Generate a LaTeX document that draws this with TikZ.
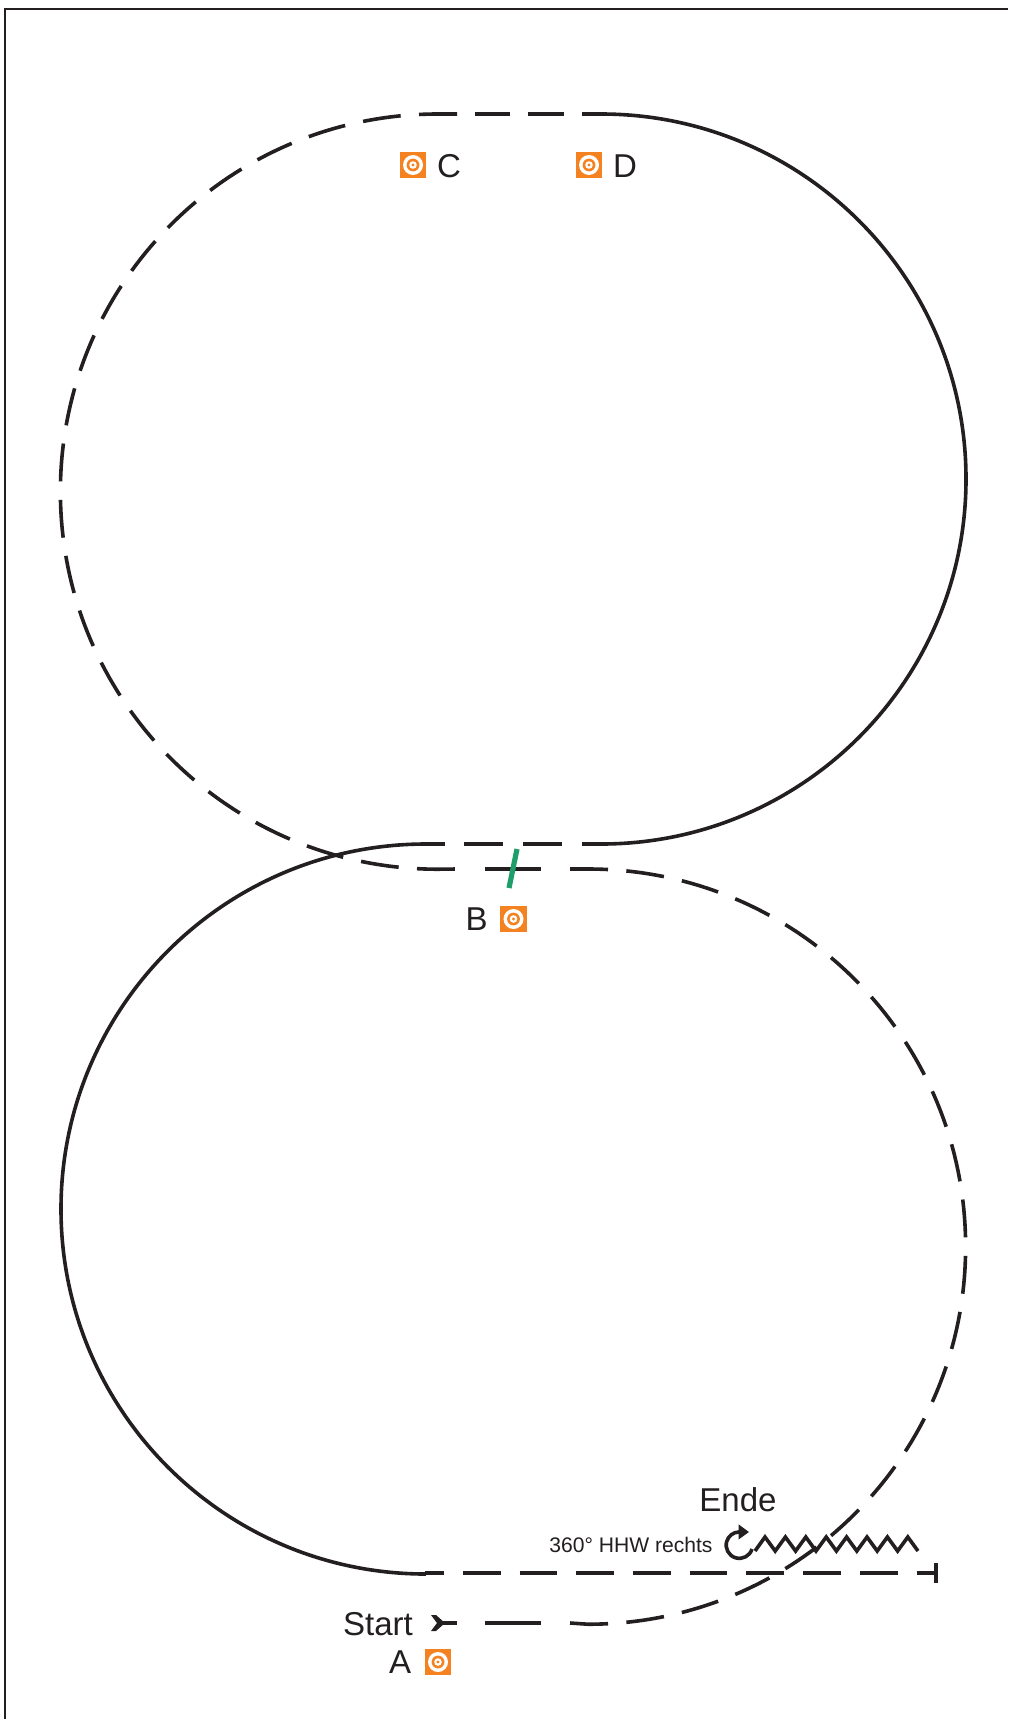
\documentclass[tikz,border=0pt]{standalone}
\usepackage{tikz}
\usetikzlibrary{arrows.meta,positioning}
\usepackage{fontspec}
\setmainfont{Liberation Sans}
\definecolor{ink}{RGB}{35,31,32}
\definecolor{zielorange}{RGB}{245,130,32}
\definecolor{torgreen}{RGB}{30,158,106}
\tikzset{
  track/.style={ink,line width=0.9mm},
  strich/.style={track,dash pattern=on 9.5mm off 4.6mm},
  ziel/.style={fill=zielorange,minimum size=6.6mm,inner sep=0pt},
  letter/.style={font=\fontsize{23.5}{24}\selectfont,text=ink,inner sep=0pt},
}
\newcommand{\zielrings}[1]{% node name
  \fill[white] (#1) circle (2.5mm);
  \fill[zielorange] (#1) circle (1.6mm);
  \fill[white] (#1) circle (0.95mm);
  \fill[zielorange] (#1) circle (0.4mm);
}

\begin{document}
\begin{tikzpicture}[x=0.25mm,y=-0.25mm]
  \useasboundingbox (0,0) rectangle (1008,1719);
  \draw[ink,line width=0.5mm] (5,1719) -- (5,9) -- (1008,9);
  % solid halves
  \draw[track] (601,114) arc[start angle=90,end angle=-90,radius=91.25mm];
  \draw[track] (426,844) arc[start angle=90,end angle=270,radius=91.25mm];
  % straights on the solid line
  \draw[track,dash pattern=on 9.8mm off 4.9mm,dash phase=4.9mm] (425,844) -- (602,844);
  \draw[track,dash pattern=on 9.45mm off 4.73mm,dash phase=4.73mm] (425,1573) -- (936,1573);
  \draw[track] (936,1563) -- (936,1583);
  % dashed halves
  \draw[strich] (457,114) -- (438,114) arc[start angle=90,end angle=270,radius=94.4mm] -- (457,869);
  \draw[strich] (570,869) -- (588,869) arc[start angle=90,end angle=-90,radius=94.4mm] -- (570,1623);
  \draw[track,dash pattern=on 9mm off 4.5mm,dash phase=4mm] (602,114) -- (475,114);
  \draw[track] (485,869) -- (541,869);
  \draw[track] (485,1623) -- (541,1623);
  % start arrow
  \draw[track] (437,1623) -- (457,1623);
  \fill[ink] (431,1615) -- (436,1615) -- (445,1623) -- (436,1631) -- (431,1631) -- (437,1623) -- cycle;
  % gate at B
  \draw[torgreen,line width=1.3mm] (517,849) -- (509,888);
  % targets
  \foreach \name/\x/\y in {A/438/1662,B/513.5/919,C/413/165,D/589/165}{
    \node[ziel] (ziel\name) at (\x,\y) {};
    \zielrings{ziel\name}
  }
  \node[letter,right=2.6mm of zielC,yshift=-0.2mm] (labelC) {C};
  \node[letter,right=2.6mm of zielD,yshift=-0.2mm] (labelD) {D};
  \node[letter,left=3mm of zielB] (labelB) {B};
  \node[letter,left=3.3mm of zielA] (labelA) {A};
  \node[letter] (labelStart) at (378,1624) {Start};
  \node[letter] (labelEnde) at (738,1500) {Ende};
  \node[font=\fontsize{15}{15}\selectfont,text=ink,inner sep=0pt] (labelHHW) at (631,1545) {360° HHW rechts};
  % turn and zigzag
  \draw[ink,line width=0.9mm,-{Triangle[length=2.6mm,width=3.6mm]}] (752,1549) arc[start angle=-17,end angle=-268,radius=3.3mm] -- (749,1532);
  \draw[ink,line width=0.9mm] (755,1551)
    \foreach \i in {0,...,7}{ -- ({765+20.4*\i},1537) -- ({775.2+20.4*\i},1551) };
\end{tikzpicture}
\end{document}
